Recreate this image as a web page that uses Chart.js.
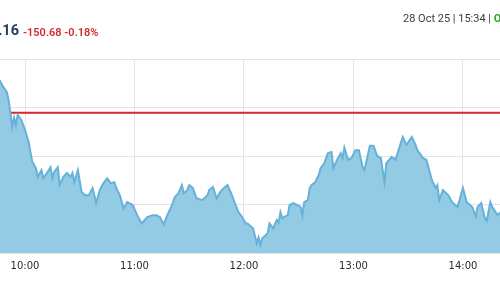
<!DOCTYPE html>
<html>
<head>
<meta charset="utf-8">
<script src="https://cdn.jsdelivr.net/npm/chart.js@4.4.1/dist/chart.umd.min.js"></script>
<style>
  html, body { margin: 0; padding: 0; background: #fff; }
  body { width: 500px; height: 300px; overflow: hidden; position: relative; font-family: Roboto, "Noto Sans", sans-serif; }
  #wrap { position: absolute; left: 0; top: 0; width: 500px; height: 300px; }
  .hdr { position: absolute; white-space: nowrap; }
  #price { right: 481px; top: 22px; font-size: 14.5px; font-weight: 700; color: #1e3a5a; }
  #change { left: 23px; top: 26px; font-size: 11px; font-weight: 600; color: #d42a2f; }
  #stamp { left: 403px; top: 12px; font-size: 11px; color: #3a3a3a; }
  #stamp b { color: #2ea52e; font-weight: 700; }
</style>
</head>
<body>
<div id="wrap"><canvas id="chart" width="500" height="300"></canvas></div>
<div class="hdr" id="price">84,628.16</div>
<div class="hdr" id="change">-150.68 -0.18%</div>
<div class="hdr" id="stamp">28 Oct 25 | 15:34 | <b>Open</b></div>
<script>
// intraday sensex, visible part of the session (times as HH:MM)
const times = [
  '09:45','09:46','09:48','09:50','09:51','09:52','09:53','09:54','09:55','09:56','09:58',
  '10:00','10:02','10:03','10:04','10:06','10:07','10:09','10:10','10:12','10:14','10:15','10:16','10:18','10:19',
  '10:21','10:23','10:25','10:26','10:27','10:29','10:31','10:33','10:35','10:37','10:38','10:39','10:41','10:43',
  '10:45','10:47','10:49','10:50','10:52','10:54','10:56','10:59',
  '11:02','11:04','11:07','11:10','11:12','11:14','11:16','11:18','11:21','11:22','11:24','11:26','11:27','11:29',
  '11:30','11:32','11:34','11:37','11:40','11:41','11:43','11:45','11:47','11:49','11:51','11:53','11:55','11:57','11:59',
  '12:01','12:02','12:03','12:05','12:07','12:08','12:09','12:10','12:13','12:14','12:16','12:18','12:19','12:20',
  '12:21','12:24','12:25','12:27','12:29','12:31','12:32','12:33','12:35','12:36','12:37','12:39','12:41','12:42',
  '12:44','12:46','12:48','12:49','12:51','12:53','12:54','12:55','12:57','12:59',
  '13:01','13:03','13:05','13:06','13:09','13:11','13:13','13:15','13:17','13:18','13:21','13:23','13:27','13:29',
  '13:32','13:34','13:35','13:38','13:40','13:43','13:45','13:46','13:47','13:49','13:52','13:54','13:57',
  '14:00','14:02','14:05','14:07','14:08','14:10','14:12','14:13','14:15','14:16','14:19','14:20','14:21'
];
const prices = [
  84861, 84857, 84843, 84832, 84816, 84789, 84760, 84779, 84764, 84785, 84774,
  84754, 84729, 84708, 84688, 84675, 84657, 84671, 84654, 84665, 84677, 84654, 84667, 84677, 84640,
  84657, 84665, 84657, 84665, 84646, 84671, 84626, 84619, 84619, 84634, 84619, 84603, 84630, 84644,
  84654, 84644, 84646, 84634, 84619, 84592, 84605, 84599,
  84574, 84561, 84574, 84578, 84578, 84574, 84559, 84578, 84603, 84615, 84623, 84640, 84623, 84630,
  84640, 84634, 84613, 84609, 84619, 84630, 84636, 84613, 84626, 84634, 84640, 84623, 84603, 84584, 84574,
  84561, 84561, 84557, 84551, 84520, 84532, 84516, 84530, 84541, 84561, 84551, 84568, 84563, 84584,
  84572, 84578, 84599, 84603, 84599, 84595, 84578, 84605, 84609, 84634, 84640, 84646, 84661, 84675,
  84685, 84706, 84708, 84675, 84692, 84706, 84696, 84717, 84692, 84696,
  84712, 84712, 84677, 84671, 84721, 84721, 84700, 84696, 84646, 84685, 84698, 84692, 84739, 84723,
  84739, 84723, 84712, 84696, 84692, 84650, 84634, 84640, 84609, 84630, 84619, 84605, 84595,
  84634, 84605, 84595, 84576, 84595, 84603, 84572, 84566, 84605, 84595, 84578, 84582, 84584
];
const prevClose = 84789;
const tickTimes = ['10:00', '11:00', '12:00', '13:00', '14:00'];
const yTicks = [84500, 84600, 84700, 84800, 84900];

const toMin = s => { const [h, m] = s.split(':').map(Number); return h * 60 + m; };
const fmt = v => { const h = Math.floor(v / 60), m = Math.round(v % 60); return (h < 10 ? '0' : '') + h + ':' + (m < 10 ? '0' : '') + m; };

const points = times.map((t, i) => ({ x: toMin(t), y: prices[i] }));
const xMin = 586.3, xMax = 860.3;

new Chart(document.getElementById('chart'), {
  type: 'line',
  data: {
    datasets: [
      {
        data: points,
        borderColor: '#67b1d8',
        borderWidth: 2,
        backgroundColor: '#93cae4',
        fill: 'start',
        pointRadius: 0,
        tension: 0
      },
      {
        data: [{ x: toMin(times[0]), y: prevClose }, { x: toMin(times[times.length - 1]), y: prevClose }],
        borderColor: '#d8262c',
        borderWidth: 2,
        pointRadius: 0,
        fill: false
      }
    ]
  },
  options: {
    responsive: false,
    animation: false,
    layout: { padding: { top: 59, left: 0, right: 0, bottom: 0 } },
    scales: {
      x: {
        type: 'linear',
        min: xMin,
        max: xMax,
        afterBuildTicks: (s) => { s.ticks = tickTimes.map(t => ({ value: toMin(t) })); },
        afterFit: (s) => { s.height = 47; },
        ticks: {
          callback: (v) => fmt(v),
          maxRotation: 0,
          padding: 7,
          color: '#2b2b2b',
          font: { family: 'DejaVu Sans', size: 10 }
        },
        grid: { color: '#e4e4e4', drawTicks: false },
        border: { display: false }
      },
      y: {
        min: yTicks[0],
        max: yTicks[yTicks.length - 1],
        afterBuildTicks: (s) => { s.ticks = yTicks.map(v => ({ value: v })); },
        afterFit: (s) => { s.width = 0; },
        ticks: { display: false },
        grid: { color: '#e4e4e4', drawTicks: false },
        border: { display: false }
      }
    },
    plugins: {
      legend: { display: false },
      tooltip: { enabled: false }
    }
  }
});
</script>
</body>
</html>
